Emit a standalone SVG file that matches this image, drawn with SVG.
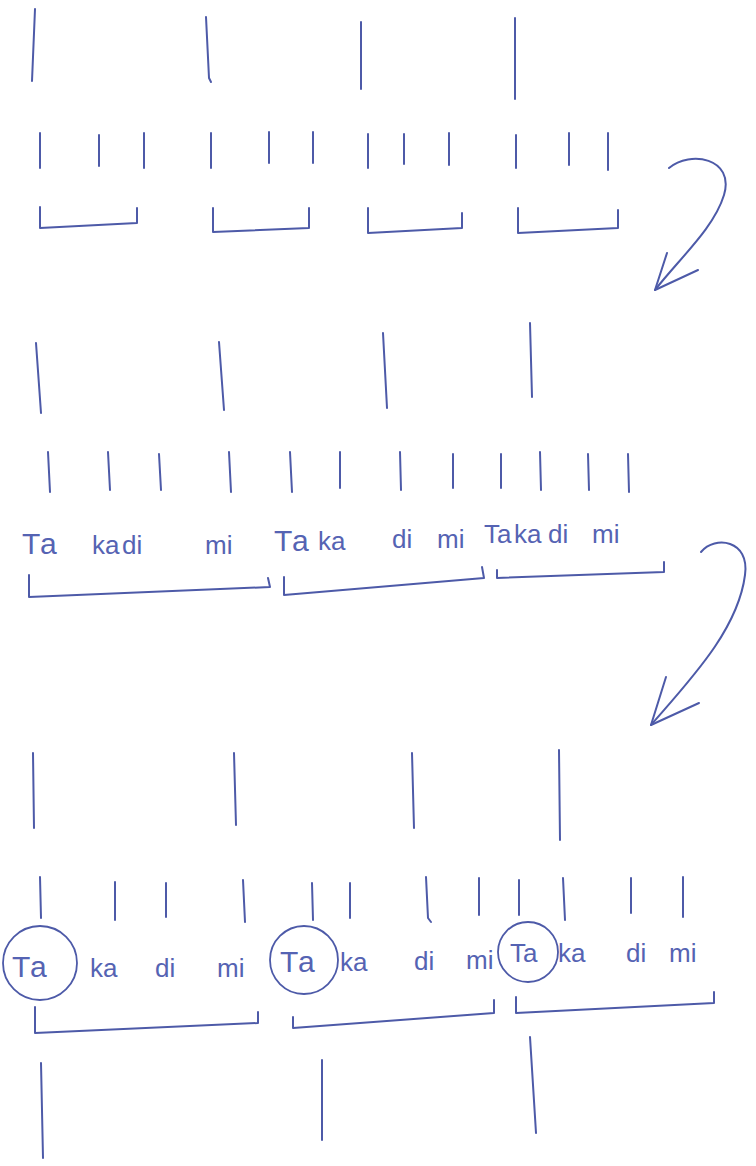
<svg xmlns="http://www.w3.org/2000/svg" width="756" height="1166" viewBox="0 0 756 1166">
<style>
.p{fill:none;stroke:#4d5aa8;stroke-width:2;stroke-linecap:round;stroke-linejoin:round}
.t{font-family:"Liberation Sans","DejaVu Sans",sans-serif;font-size:26px;fill:#5563b3}
.T{font-size:30px;letter-spacing:3px}
.c{fill:none;stroke:#4d5aa8;stroke-width:1.8}
</style>
<rect width="756" height="1166" fill="#ffffff"/>
<g id="section1">
<g id="s1-beats" class="p"><path d="M35,9 L32,81"/><path d="M206,17 L209,78 L211,82"/><path d="M361,22 L361,89"/><path d="M515,18 L515,99"/></g>
<g id="s1-pulses" class="p"><path d="M40,133 V168"/><path d="M99,135 V166"/><path d="M144,133 V168"/><path d="M211,133 V168"/><path d="M269,132 V163"/><path d="M313,132 V163"/><path d="M368,134 V168"/><path d="M404,134 V164"/><path d="M449,133 V165"/><path d="M516,135 V168"/><path d="M569,133 V165"/><path d="M608,133 V170"/></g>
<g id="s1-groups" class="p"><path d="M40,207 L40,228 L137,223 L137,208"/><path d="M213,208 L213,232 L309,228 L309,208"/><path d="M368,208 L368,233 L462,228 L462,213"/><path d="M518,208 L518,233 L618,228 L618,210"/></g>
</g>
<g id="section2">
<g id="s2-beats" class="p"><path d="M36,343 L41,413"/><path d="M219,342 L224,410"/><path d="M383,333 L387,408"/><path d="M530,323 L532,397"/></g>
<g id="s2-pulses" class="p"><path d="M48,452 L50,492"/><path d="M108,452 L110,490"/><path d="M159,454 L161,490"/><path d="M229,452 L231,492"/><path d="M290,452 L292,492"/><path d="M340,452 V488"/><path d="M400,452 L401,490"/><path d="M453,454 V488"/><path d="M501,454 V488"/><path d="M540,452 L541,490"/><path d="M588,454 L589,490"/><path d="M628,454 L629,492"/></g>
<g id="s2-text" class="t"><text class="T" x="22" y="554">Ta</text><text x="92" y="554">ka</text><text x="122" y="554">di</text><text x="205" y="554">mi</text><text class="T" x="274" y="551">Ta</text><text x="318" y="550">ka</text><text x="392" y="548">di</text><text x="437" y="548">mi</text><text x="484" y="543">Ta</text><text x="514" y="543">ka</text><text x="548" y="543">di</text><text x="592" y="543">mi</text></g>
<g id="s2-groups" class="p"><path d="M29,575 L29,597 L270,587 L268,578"/><path d="M284,577 L284,595 L484,578 L482,567"/><path d="M497,570 L497,578 L664,572 L664,562"/></g>
</g>
<g id="section3">
<g id="s3-beats" class="p"><path d="M33,753 L34,828"/><path d="M234,753 L236,825"/><path d="M412,753 L414,828"/><path d="M559,750 L560,840"/></g>
<g id="s3-pulses" class="p"><path d="M40,877 L41,918"/><path d="M115,882 V920"/><path d="M166,883 V917"/><path d="M243,880 L245,922"/><path d="M312,883 L313,920"/><path d="M350,883 V918"/><path d="M426,877 L428,918 L431,922"/><path d="M479,878 V915"/><path d="M519,880 V915"/><path d="M563,878 L565,920"/><path d="M631,878 V913"/><path d="M683,877 V917"/></g>
<g id="s3-circles" class="c"><circle cx="40" cy="963" r="37"/><circle cx="304" cy="960" r="34"/><circle cx="528" cy="952" r="30"/></g>
<g id="s3-text" class="t"><text class="T" x="12" y="977">Ta</text><text x="90" y="977">ka</text><text x="155" y="977">di</text><text x="217" y="977">mi</text><text class="T" x="280" y="972">Ta</text><text x="340" y="971">ka</text><text x="414" y="970">di</text><text x="466" y="969">mi</text><text x="510" y="962">Ta</text><text x="558" y="962">ka</text><text x="626" y="962">di</text><text x="669" y="962">mi</text></g>
<g id="s3-groups" class="p"><path d="M35,1007 L35,1033 L258,1023 L258,1012"/><path d="M293,1017 L293,1028 L494,1013 L494,1000"/><path d="M516,997 L516,1013 L714,1003 L714,992"/></g>
<g id="s3-beats-below" class="p"><path d="M41,1063 L43,1158"/><path d="M322,1060 L322,1140"/><path d="M530,1037 L536,1133"/></g>
</g>
<g id="connectors" class="p">
<path d="M669,168 C690,150 735,158 724,195 C714,228 680,258 655,290"/><path d="M667,253 L655,290 L698,270"/>
<path d="M701,552 C715,535 750,540 745,575 C738,630 690,680 651,725"/><path d="M666,677 L651,725 L699,703"/>
</g>
</svg>
